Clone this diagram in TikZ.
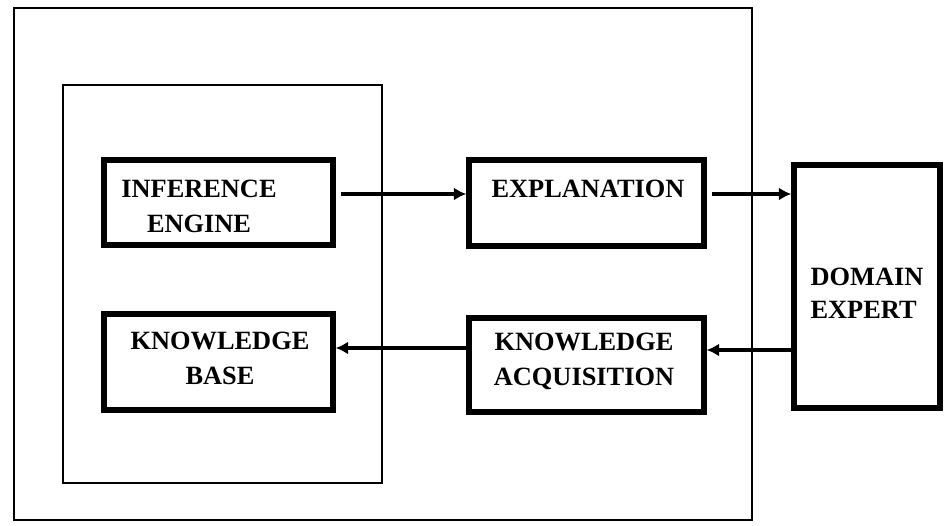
\documentclass[tikz,border=0pt]{standalone}
\usepackage{fontspec}
\setmainfont{Liberation Serif}
\usetikzlibrary{arrows.meta}

\begin{document}
\begin{tikzpicture}[
  unitbox/.style={draw, line width=3pt, inner sep=0pt},
  unittext/.style={font=\fontsize{15}{20}\selectfont\bfseries, align=center, inner sep=0pt},
  flow/.style={line width=2pt, -{Latex[length=2.5mm,width=2.6mm]}}
]
\useasboundingbox (0,0) rectangle (18.9,-10.5);

% frames
\draw[line width=1.2pt] (0.28,-0.16) rectangle (15.04,-10.40);
\draw[line width=1.5pt] (1.26,-1.70) rectangle (7.64,-9.66);

% boxes
\node[unitbox, minimum width=4.58cm, minimum height=1.70cm] (ie) at (4.37,-4.05) {};
\node[unitbox, minimum width=4.70cm, minimum height=1.72cm] (expl) at (11.73,-4.06) {};
\node[unitbox, minimum width=4.58cm, minimum height=1.92cm] (kb) at (4.37,-7.24) {};
\node[unitbox, minimum width=4.70cm, minimum height=1.88cm] (ka) at (11.73,-7.30) {};
\node[unitbox, minimum width=2.92cm, minimum height=4.86cm] (de) at (17.34,-5.73) {};

% texts
\node[unittext] (ietxt) at (3.98,-4.13) {INFERENCE\\ENGINE};
\node[unittext] (expltxt) at (11.76,-3.78) {EXPLANATION};
\node[unittext] (kbtxt) at (4.40,-7.17) {KNOWLEDGE\\BASE};
\node[unittext] (katxt) at (11.68,-7.23) {KNOWLEDGE\\ACQUISITION};
\node[unittext, align=left, font=\fontsize{15}{19}\selectfont\bfseries] (detxt) at (17.34,-5.87) {DOMAIN\\EXPERT};

% arrows
\draw[flow, shorten <=1mm] ([yshift=1.7mm]ie.east) -- ([yshift=1.7mm]ie.east -| expl.west);
\draw[flow, shorten <=1mm] ([yshift=1.8mm]expl.east) -- ([yshift=1.8mm]expl.east -| de.west);
\draw[flow] ([yshift=3mm]ka.east -| de.west) -- ([yshift=3mm]ka.east);
\draw[flow] ([yshift=3.4mm]ka.west) -- ([yshift=3.4mm]ka.west -| kb.east);
\end{tikzpicture}
\end{document}
